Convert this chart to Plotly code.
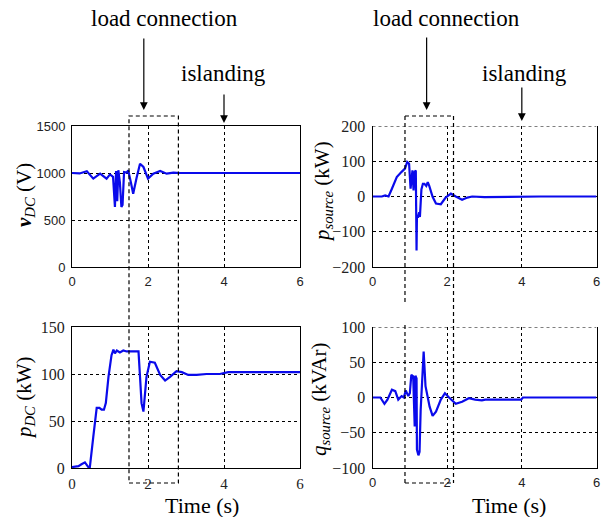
import plotly.graph_objects as go

W, H = 604, 517

# ---------------- data ----------------
t_vdc = [0, 0.2, 0.39, 0.56, 0.74, 0.91, 1.0, 1.08, 1.13, 1.16, 1.19, 1.22, 1.26, 1.30, 1.33, 1.37,
         1.44, 1.48, 1.55, 1.61, 1.70, 1.79, 1.88, 2.0, 2.14, 2.32, 2.49, 2.67, 2.85, 3.0, 3.05, 3.1, 6.0]
v_dc = [1000, 995, 1018, 940, 993, 940, 985, 960, 640, 1020, 700, 1030, 900, 640, 660, 1010,
        1005, 1028, 900, 780, 950, 1099, 1064, 940, 993, 1021, 993, 1004, 1000, 1005, 1000, 1000, 1000]

t_psrc = [0, 0.25, 0.34, 0.43, 0.52, 0.65, 0.78, 0.87, 0.93, 0.98, 1.02, 1.04, 1.07, 1.10, 1.13, 1.16,
          1.18, 1.19, 1.22, 1.25, 1.27, 1.31, 1.35, 1.39, 1.44, 1.48, 1.52, 1.61, 1.70, 1.83, 1.96,
          2.10, 2.23, 2.40, 2.54, 2.67, 3.0, 3.5, 4.0, 4.5, 6.0]
p_src = [0, 0, 3, 0, 22, 55, 70, 79, 98, 93, 22, 55, 74, 17, 70, 74,
         -153, -58, -58, -45, -58, 20, 36, 36, 30, 41, 30, -1, -20, -22, -3,
         8, 0, -9, -3, 0, -2, -1, -2, 0, 0]

t_pdc = [0, 0.17, 0.25, 0.34, 0.43, 0.47, 0.56, 0.65, 0.72, 0.78, 0.84, 0.89, 0.96, 1.04, 1.09, 1.13,
         1.18, 1.26, 1.35, 1.44, 1.61, 1.75, 1.79, 1.83, 1.88, 1.92, 1.96, 2.05, 2.18, 2.32, 2.45,
         2.58, 2.75, 2.89, 3.06, 3.28, 3.54, 3.89, 4.11, 4.42, 5.12, 5.82, 6.0]
p_dc = [1, 2, 4, 6, 1, 1, 33, 64, 64, 62, 62, 69, 97, 120, 126, 122,
        125, 123, 125, 124, 124, 124, 97, 69, 60, 76, 97, 113, 112, 99, 93,
        97, 103, 102, 99, 99, 100, 100, 102, 102, 102, 102, 102]

t_qsrc = [0, 0.21, 0.32, 0.40, 0.52, 0.61, 0.69, 0.78, 0.84, 0.89, 0.96, 1.00, 1.04, 1.09, 1.13, 1.15,
          1.18, 1.19, 1.23, 1.26, 1.29, 1.33, 1.37, 1.42, 1.53, 1.61, 1.70, 1.83, 1.94, 2.05, 2.23,
          2.40, 2.58, 2.75, 2.93, 3.02, 3.37, 3.98, 4.03, 6.0]
q_src = [0, 0, -9, -3, 11, 9, -3, 2, 0, 10, 2, 6, 32, 30, -41, 31,
         27, -74, -82, -77, -18, 30, 65, 16, -13, -26, -20, -3, 6, 0, -9,
         -6, -1, -3, -4, -3, -3, -3, 0, 0]

x_ticks = [0, 2, 4, 6]
load_box_left = [1.5, 2.8]     # time span of left dashed box
load_box_right = [0.87, 2.17]  # time span of right dashed box
load_arrow_t = [1.89, 1.45]
island_t = 4

# ---------------- layout helpers ----------------
def px_x(p):
    return p / W

def px_y(p):
    return 1 - p / H

blue = "rgb(10,10,235)"
serif = "Liberation Serif"
sans = "Liberation Sans"
GD = "3px,3px"

fig = go.Figure()
fig.add_trace(go.Scatter(x=t_vdc, y=v_dc, xaxis="x", yaxis="y", mode="lines",
                         line=dict(color=blue, width=2.2), showlegend=False))
fig.add_trace(go.Scatter(x=t_psrc, y=p_src, xaxis="x2", yaxis="y2", mode="lines",
                         line=dict(color=blue, width=2.2), showlegend=False))
fig.add_trace(go.Scatter(x=t_pdc, y=p_dc, xaxis="x3", yaxis="y3", mode="lines",
                         line=dict(color=blue, width=2.2), showlegend=False))
fig.add_trace(go.Scatter(x=t_qsrc, y=q_src, xaxis="x4", yaxis="y4", mode="lines",
                         line=dict(color=blue, width=2.2), showlegend=False))

xl = [px_x(72), px_x(300)]
xr = [px_x(372.5), px_x(596.5)]
yt = [px_y(267), px_y(126)]
yb = [px_y(468), px_y(327)]

def xax(dom, anchor, font, mirror=True):
    return dict(domain=dom, anchor=anchor, range=[0, 6], tickvals=x_ticks,
                showgrid=True, gridcolor="black", griddash=GD, gridwidth=1,
                showline=True, linecolor="black", linewidth=1, mirror=mirror,
                zeroline=False, ticks="", tickfont=font, ticklabelstandoff=2,
                automargin=False)

def yax(dom, anchor, rng, dt, font, mirror=True):
    return dict(domain=dom, anchor=anchor, range=rng, dtick=dt,
                showgrid=True, gridcolor="black", griddash=GD, gridwidth=1,
                showline=True, linecolor="black", linewidth=1, mirror=mirror,
                zeroline=False, ticks="", tickfont=font, ticklabelstandoff=3,
                automargin=False)

sfont = dict(family=sans, size=13, color="#222")
tfont = dict(family=serif, size=16, color="#222")

fig.update_layout(
    width=W, height=H, margin=dict(l=0, r=0, t=0, b=0),
    paper_bgcolor="white", plot_bgcolor="white",
    xaxis=xax(xl, "y", sfont),
    yaxis=yax(yt, "x", [0, 1500], 500, sfont),
    xaxis2=xax(xr, "y2", sfont, mirror=False),
    yaxis2=yax(yt, "x2", [-200, 200], 100, tfont),
    xaxis3=xax(xl, "y3", dict(family=serif, size=15, color="#222")),
    yaxis3=yax(yb, "x3", [0, 150], 50, tfont),
    xaxis4=xax(xr, "y4", sfont, mirror=False),
    yaxis4=yax(yb, "x4", [-100, 100], 50, tfont),
)

ann = []
title_font = dict(family=serif, size=21, color="black")
ann.append(dict(text="<b><i>v</i></b><sub><i>DC</i></sub> (V)", x=px_x(25), y=px_y(195),
                textangle=-90, font=title_font))
ann.append(dict(text="<i>p</i><sub><i>source</i></sub> (kW)", x=px_x(323), y=px_y(192),
                textangle=-90, font=title_font))
ann.append(dict(text="<i>p</i><sub><i>DC</i></sub> (kW)", x=px_x(25), y=px_y(398),
                textangle=-90, font=title_font))
ann.append(dict(text="<i>q</i><sub><i>source</i></sub> (kVAr)", x=px_x(320), y=px_y(400),
                textangle=-90, font=title_font))
ann.append(dict(text="Time (s)", x=px_x(202), y=px_y(505), font=dict(family=serif, size=22, color="black")))
ann.append(dict(text="Time (s)", x=px_x(509), y=px_y(505), font=dict(family=serif, size=22, color="black")))
label_font = dict(family=serif, size=23, color="black")
ann.append(dict(text="load connection", x=px_x(164), y=px_y(18), font=label_font))
ann.append(dict(text="load connection", x=px_x(446), y=px_y(18), font=label_font))
ann.append(dict(text="islanding", x=px_x(223), y=px_y(74), font=label_font))
ann.append(dict(text="islanding", x=px_x(524), y=px_y(74), font=label_font))
for a in ann:
    a.update(xref="paper", yref="paper", showarrow=False, xanchor="center", yanchor="middle")

arrows = [
    dict(x=load_arrow_t[0], xref="x", y=px_y(110), ay=-73),
    dict(x=load_arrow_t[1], xref="x2", y=px_y(110), ay=-74),
    dict(x=island_t, xref="x", y=px_y(123), ay=-30),
    dict(x=island_t, xref="x2", y=px_y(121), ay=-35),
]
for a in arrows:
    a.update(yref="paper", text="", showarrow=True, ax=0, axref="pixel", ayref="pixel",
             arrowhead=2, arrowsize=1.3, arrowwidth=1.2, arrowcolor="black")
    ann.append(a)
fig.update_layout(annotations=ann)

dash = dict(color="black", width=1.2, dash="4px,3px")
shapes = [
    dict(type="rect", xref="x", yref="paper", x0=load_box_left[0], x1=load_box_left[1],
         y0=px_y(483), y1=px_y(116), line=dash),
    # right box: top, bottom, right edge, left edge with gap
    dict(type="line", xref="x2", yref="paper", x0=load_box_right[0], x1=load_box_right[1],
         y0=px_y(116), y1=px_y(116), line=dash),
    dict(type="line", xref="x2", yref="paper", x0=load_box_right[0], x1=load_box_right[1],
         y0=px_y(483), y1=px_y(483), line=dash),
    dict(type="line", xref="x2", yref="paper", x0=load_box_right[1], x1=load_box_right[1],
         y0=px_y(116), y1=px_y(483), line=dash),
    dict(type="line", xref="x2", yref="paper", x0=load_box_right[0], x1=load_box_right[0],
         y0=px_y(116), y1=px_y(303), line=dash),
    dict(type="line", xref="x2", yref="paper", x0=load_box_right[0], x1=load_box_right[0],
         y0=px_y(325), y1=px_y(483), line=dash),
    # dashed top borders of right panels
    dict(type="line", xref="x2", yref="y2", x0=0, x1=6, y0=200, y1=200,
         line=dict(color="black", width=1.2, dash="3px,3px")),
    dict(type="line", xref="x4", yref="y4", x0=0, x1=6, y0=100, y1=100,
         line=dict(color="black", width=1.2, dash="3px,3px")),
]
fig.update_layout(shapes=shapes)

fig.write_html("out.html")
